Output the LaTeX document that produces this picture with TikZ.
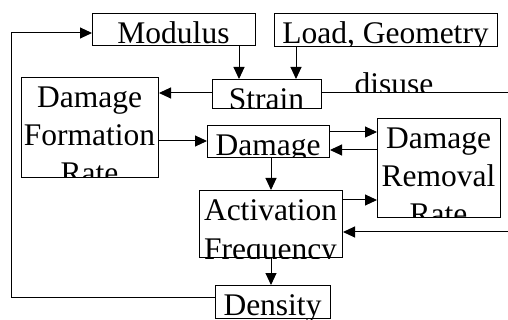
\documentclass[tikz,border=0pt]{standalone}
\usepackage{fontspec}
\setmainfont{Liberation Serif}
\usetikzlibrary{arrows.meta}
\newcommand\bigfs{\fontsize{31.5}{38}\selectfont}
\tikzset{
  box/.style={draw, line width=1pt, inner sep=0pt, anchor=north west},
  txt/.style={font=\bigfs, inner sep=0pt, anchor=base},
  conn/.style={line width=1pt},
  arr/.style={line width=1pt, -{Triangle[length=12pt,width=11pt]}}
}
% name, x1, y1, x2, y2
\newcommand\mybox[5]{%
  \node[box, minimum width={(#4-#2)*1pt}, minimum height={(#5-#3)*1pt}] (#1) at (#2,#3) {};}
\begin{document}
\begin{tikzpicture}[x=1pt,y=-1pt]
\useasboundingbox (0,0) rectangle (508,320);
\mybox{mod}{92}{13}{255}{45}
\mybox{load}{274}{13}{497}{46}
\mybox{strain}{212}{79}{321}{108}
\mybox{dfr}{21}{77}{158}{177}
\mybox{dam}{207}{125}{329}{157}
\mybox{drr}{377}{118}{500}{217}
\mybox{act}{199}{190}{342}{257}
\mybox{den}{215}{285}{330}{318}
% texts, clipped to their boxes
\begin{scope}\clip (mod.south west) rectangle (mod.north east);
  \node[txt] (modt) at (173.5,43.5) {Modulus};\end{scope}
\begin{scope}\clip (load.south west) rectangle (load.north east);
  \node[txt] (loadt) at (385.5,43.5) {Load, Geometry};\end{scope}
\begin{scope}\clip (strain.south west) rectangle (strain.north east);
  \node[txt] (straint) at (266.5,109.5) {Strain};\end{scope}
\begin{scope}\clip (dfr.south west) rectangle (dfr.north east);
  \node[txt] (dfrt1) at (89.5,107.5) {Damage};
  \node[txt] (dfrt2) at (89.5,145.5) {Formation};
  \node[txt] (dfrt3) at (89.5,183.5) {Rate};\end{scope}
\begin{scope}\clip (dam.south west) rectangle (dam.north east);
  \node[txt] (damt) at (268,156) {Damage};\end{scope}
\begin{scope}\clip (drr.south west) rectangle (drr.north east);
  \node[txt] (drrt1) at (438.5,148.5) {Damage};
  \node[txt] (drrt2) at (438.5,186.5) {Removal};
  \node[txt] (drrt3) at (438.5,224.5) {Rate};\end{scope}
\begin{scope}\clip (act.south west) rectangle (act.north east);
  \node[txt] (actt1) at (270.5,221) {Activation};
  \node[txt] (actt2) at (270.5,259) {Frequency};\end{scope}
\begin{scope}\clip (den.south west) rectangle (den.north east);
  \node[txt] (dent) at (272.5,315) {Density};\end{scope}
\begin{scope}\clip (330,60) rectangle (470,92.5);
  \node[txt] (disuse) at (394,95) {disuse};\end{scope}
% connectors
\coordinate (disR) at (508,93);
\coordinate (actR) at (508,232);
\draw[arr] (239,0 |- mod.south) -- (239,0 |- strain.north);
\draw[arr] (296,0 |- load.south) -- (296,0 |- strain.north);
\draw[arr] (strain.west |- disR) -- (dfr.east |- disR);
\draw[conn] (disR) -- (strain.east |- disR);
\draw[arr] (dfr.east |- 0,141) -- (dam.west |- 0,141);
\draw[arr] (dam.east |- 0,132) -- (drr.west |- 0,132);
\draw[arr] (drr.west |- 0,150) -- (dam.east |- 0,150);
\draw[arr] (271,0 |- dam.south) -- (271,0 |- act.north);
\draw[arr] (act.east |- 0,200) -- (drr.west |- 0,200);
\draw[arr] (actR) -- (act.east |- actR);
\draw[arr] (271,0 |- act.south) -- (271,0 |- den.north);
\draw[arr] (den.west |- 0,297) -- (11,297) -- (11,33) -- (mod.west |- 0,33);
\end{tikzpicture}
\end{document}
